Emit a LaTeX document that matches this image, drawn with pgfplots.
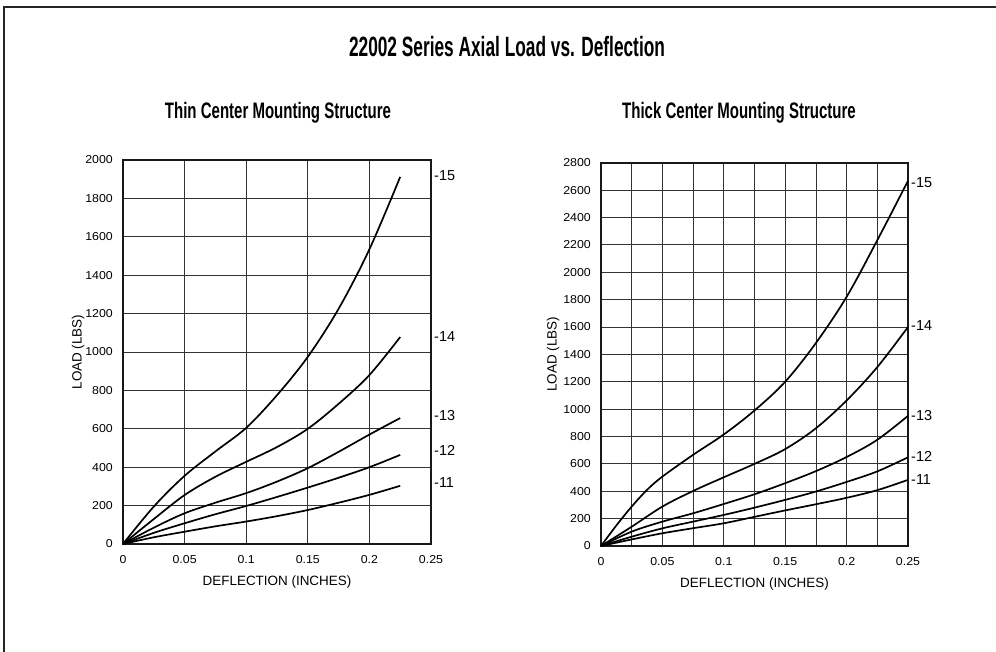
\documentclass[border=0pt]{standalone}
\usepackage{fontspec}
\setmainfont{Liberation Sans}
\newfontfamily\titlefont[FakeStretch=0.62]{Liberation Sans}
\newfontfamily\subfont[FakeStretch=0.67]{Liberation Sans}
\newfontfamily\tickfont[FakeStretch=1.08]{Liberation Sans}
\usepackage{pgfplots}
\pgfplotsset{compat=1.18}

\tikzset{
  curve/.style={black, line width=1.7bp, smooth, tension=0.55},
  lbl/.style={anchor=west, inner sep=0pt, xshift=3bp, font=\fontsize{14.5}{14.5}\selectfont},
}
\pgfplotsset{
  chart/.style={
    scale only axis,
    anchor=south west,
    clip=false,
    xmin=0, xmax=0.25,
    ymin=0,
    grid=both,
    major grid style={line width=0.8bp, black!80},
    minor grid style={line width=0.8bp, black!80},
    axis line style={line width=2.2bp, black!90},
    major tick length=0pt,
    minor tick length=0pt,
    xtick={0,0.05,0.1,0.15,0.2,0.25},
    xticklabels={0,0.05,0.1,0.15,0.2,0.25},
    /pgf/number format/assume math mode=true,
    /pgf/number format/1000 sep={},
    tick label style={font=\tickfont\fontsize{11.5}{11.5}\selectfont},
    xticklabel style={anchor=base, yshift=-20bp},
    yticklabel style={anchor=east, inner sep=0pt, xshift=-10bp},
    label style={font=\fontsize{13.5}{13.5}\selectfont},
    xlabel={DEFLECTION (INCHES)},
    ylabel={LOAD (LBS)},
    xlabel style={at={(axis description cs:0.5,0)}, anchor=base, yshift=-41bp},
  },
}

\begin{document}
\begin{tikzpicture}
\useasboundingbox (0bp,0bp) rectangle (996bp,652bp);
\draw[line width=2bp, black!85] (4bp,-5bp) -- (4bp,645bp) -- (1001bp,645bp);

\node[anchor=base] at (507bp,595.5bp) {\titlefont\bfseries\fontsize{28}{28}\selectfont 22002 Series Axial Load vs. Deflection};
\node[anchor=base] at (278bp,533.5bp) {\subfont\bfseries\fontsize{22.5}{22.5}\selectfont Thin Center Mounting Structure};
\node[anchor=base] at (739bp,533.5bp) {\subfont\bfseries\fontsize{22.5}{22.5}\selectfont Thick Center Mounting Structure};

% thin center
\begin{axis}[chart,
    at={(123bp,108bp)}, width=308bp, height=384bp,
    ymax=2000, ytick={0,200,...,2000},
    ylabel style={at={(axis description cs:-0.146,0.5)}, anchor=center},
]
\addplot[curve] coordinates {(0,0)(0.025,195)(0.05,355)(0.075,482)(0.1,605)(0.125,775)(0.15,975)(0.175,1225)(0.2,1535)(0.225,1912)};
\addplot[curve] coordinates {(0,0)(0.025,130)(0.05,255)(0.075,350)(0.1,428)(0.125,505)(0.15,600)(0.175,730)(0.2,880)(0.225,1078)};
\addplot[curve] coordinates {(0,0)(0.025,85)(0.05,160)(0.075,215)(0.1,265)(0.125,325)(0.15,395)(0.175,480)(0.2,570)(0.225,656)};
\addplot[curve] coordinates {(0,0)(0.025,58)(0.05,108)(0.075,155)(0.1,198)(0.125,245)(0.15,294)(0.175,345)(0.2,400)(0.225,464)};
\addplot[curve] coordinates {(0,0)(0.025,35)(0.05,64)(0.075,92)(0.1,117)(0.125,145)(0.15,177)(0.175,215)(0.2,256)(0.225,303)};
\node[lbl] at (axis cs:0.25,1919) {-15};
\node[lbl] at (axis cs:0.25,1080) {-14};
\node[lbl] at (axis cs:0.25,668) {-13};
\node[lbl] at (axis cs:0.25,486) {-12};
\node[lbl] at (axis cs:0.25,321) {-11};
\end{axis}

% thick center
\begin{axis}[chart,
    at={(601bp,106bp)}, width=307bp, height=383.3bp,
    ymax=2800, ytick={0,200,...,2800},
    minor xtick={0.025,0.075,0.125,0.175,0.225},
    ylabel style={at={(axis description cs:-0.156,0.5)}, anchor=center},
]
\addplot[curve] coordinates {(0,0)(0.0125,150)(0.025,288)(0.0375,410)(0.05,507)(0.075,666)(0.1,815)(0.125,990)(0.15,1200)(0.175,1483)(0.2,1820)(0.225,2234)(0.25,2668)};
\addplot[curve] coordinates {(0,0)(0.025,141)(0.05,288)(0.075,402)(0.1,502)(0.125,600)(0.15,708)(0.175,860)(0.2,1063)(0.225,1307)(0.25,1600)};
\addplot[curve] coordinates {(0,0)(0.025,105)(0.05,178)(0.075,239)(0.1,307)(0.125,378)(0.15,459)(0.175,547)(0.2,650)(0.225,776)(0.25,951)};
\addplot[curve] coordinates {(0,0)(0.025,68)(0.05,129)(0.075,178)(0.1,227)(0.125,280)(0.15,337)(0.175,398)(0.2,468)(0.225,545)(0.25,648)};
\addplot[curve] coordinates {(0,0)(0.025,48)(0.05,93)(0.075,130)(0.1,166)(0.125,213)(0.15,260)(0.175,305)(0.2,352)(0.225,408)(0.25,483)};
\node[lbl] at (axis cs:0.25,2657) {-15};
\node[lbl] at (axis cs:0.25,1609) {-14};
\node[lbl] at (axis cs:0.25,952) {-13};
\node[lbl] at (axis cs:0.25,652) {-12};
\node[lbl] at (axis cs:0.25,482) {-11};
\end{axis}
\end{tikzpicture}
\end{document}
